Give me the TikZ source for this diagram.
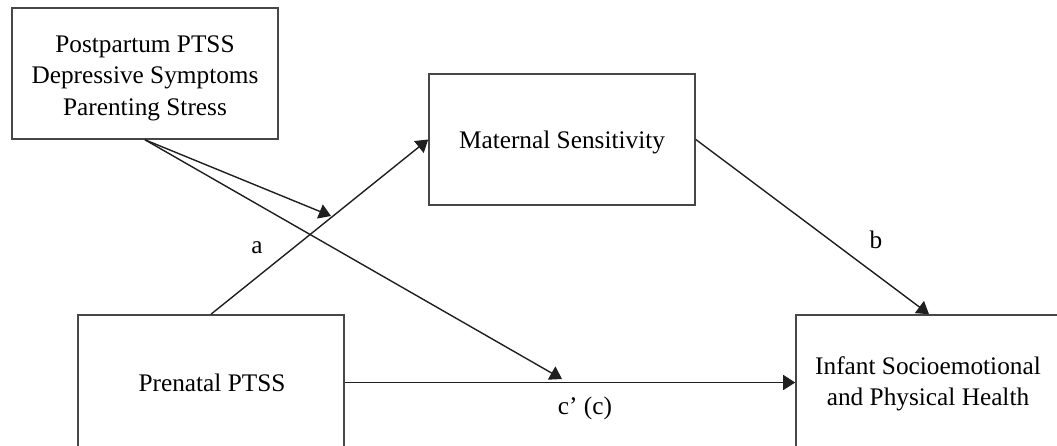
\documentclass[tikz,border=0pt]{standalone}
\usepackage{fontspec}
\setmainfont{Liberation Serif}
\usetikzlibrary{arrows.meta}
\begin{document}
\begin{tikzpicture}[x=1pt,y=-1pt,
  box/.style={draw=black!72,line width=1.6pt,rectangle,minimum width=266pt,inner sep=0pt},
  txt/.style={align=center,inner sep=0pt,font=\fontsize{25.3}{31.5}\selectfont},
  arr/.style={draw=black!88,line width=1.4pt,-{Triangle[length=12pt,width=15pt]}},
  lbl/.style={font=\fontsize{25.3}{31.5}\selectfont,inner sep=0pt}]
\useasboundingbox (0,0) rectangle (1057,445);
\clip (0,0) rectangle (1057,445);
\node[box,minimum height=131pt] (mod) at (145,73.5) {};
\node[box,minimum height=131pt] (mat) at (562,139.5) {};
\node[box,minimum height=135pt] (pre) at (211,382.5) {};
\node[box,minimum height=135pt] (out) at (929,382.5) {};
\node[txt] (modt) at (145,78) {Postpartum PTSS\\Depressive Symptoms\\Parenting Stress};
\node[txt] (matt) at (562,142) {Maternal Sensitivity};
\node[txt] (pret) at (212,383) {Prenatal PTSS};
\node[txt] (outt) at (928,384) {Infant Socioemotional\\and Physical Health};
\coordinate (m1) at (331,216);
\coordinate (m2) at (562,379);
\draw[arr] (pre.north) -- (mat.west);
\draw[arr] (mat.east) -- (out.north);
\draw[arr] (pre.east) -- (out.west);
\draw[arr] (mod.south) -- (m1);
\draw[arr] (mod.south) -- (m2);
\node[lbl] (la) at (257,248) {a};
\node[lbl] (lb) at (876,240) {b};
\node[lbl] (lc) at (585,408) {c’ (c)};
\end{tikzpicture}
\end{document}
